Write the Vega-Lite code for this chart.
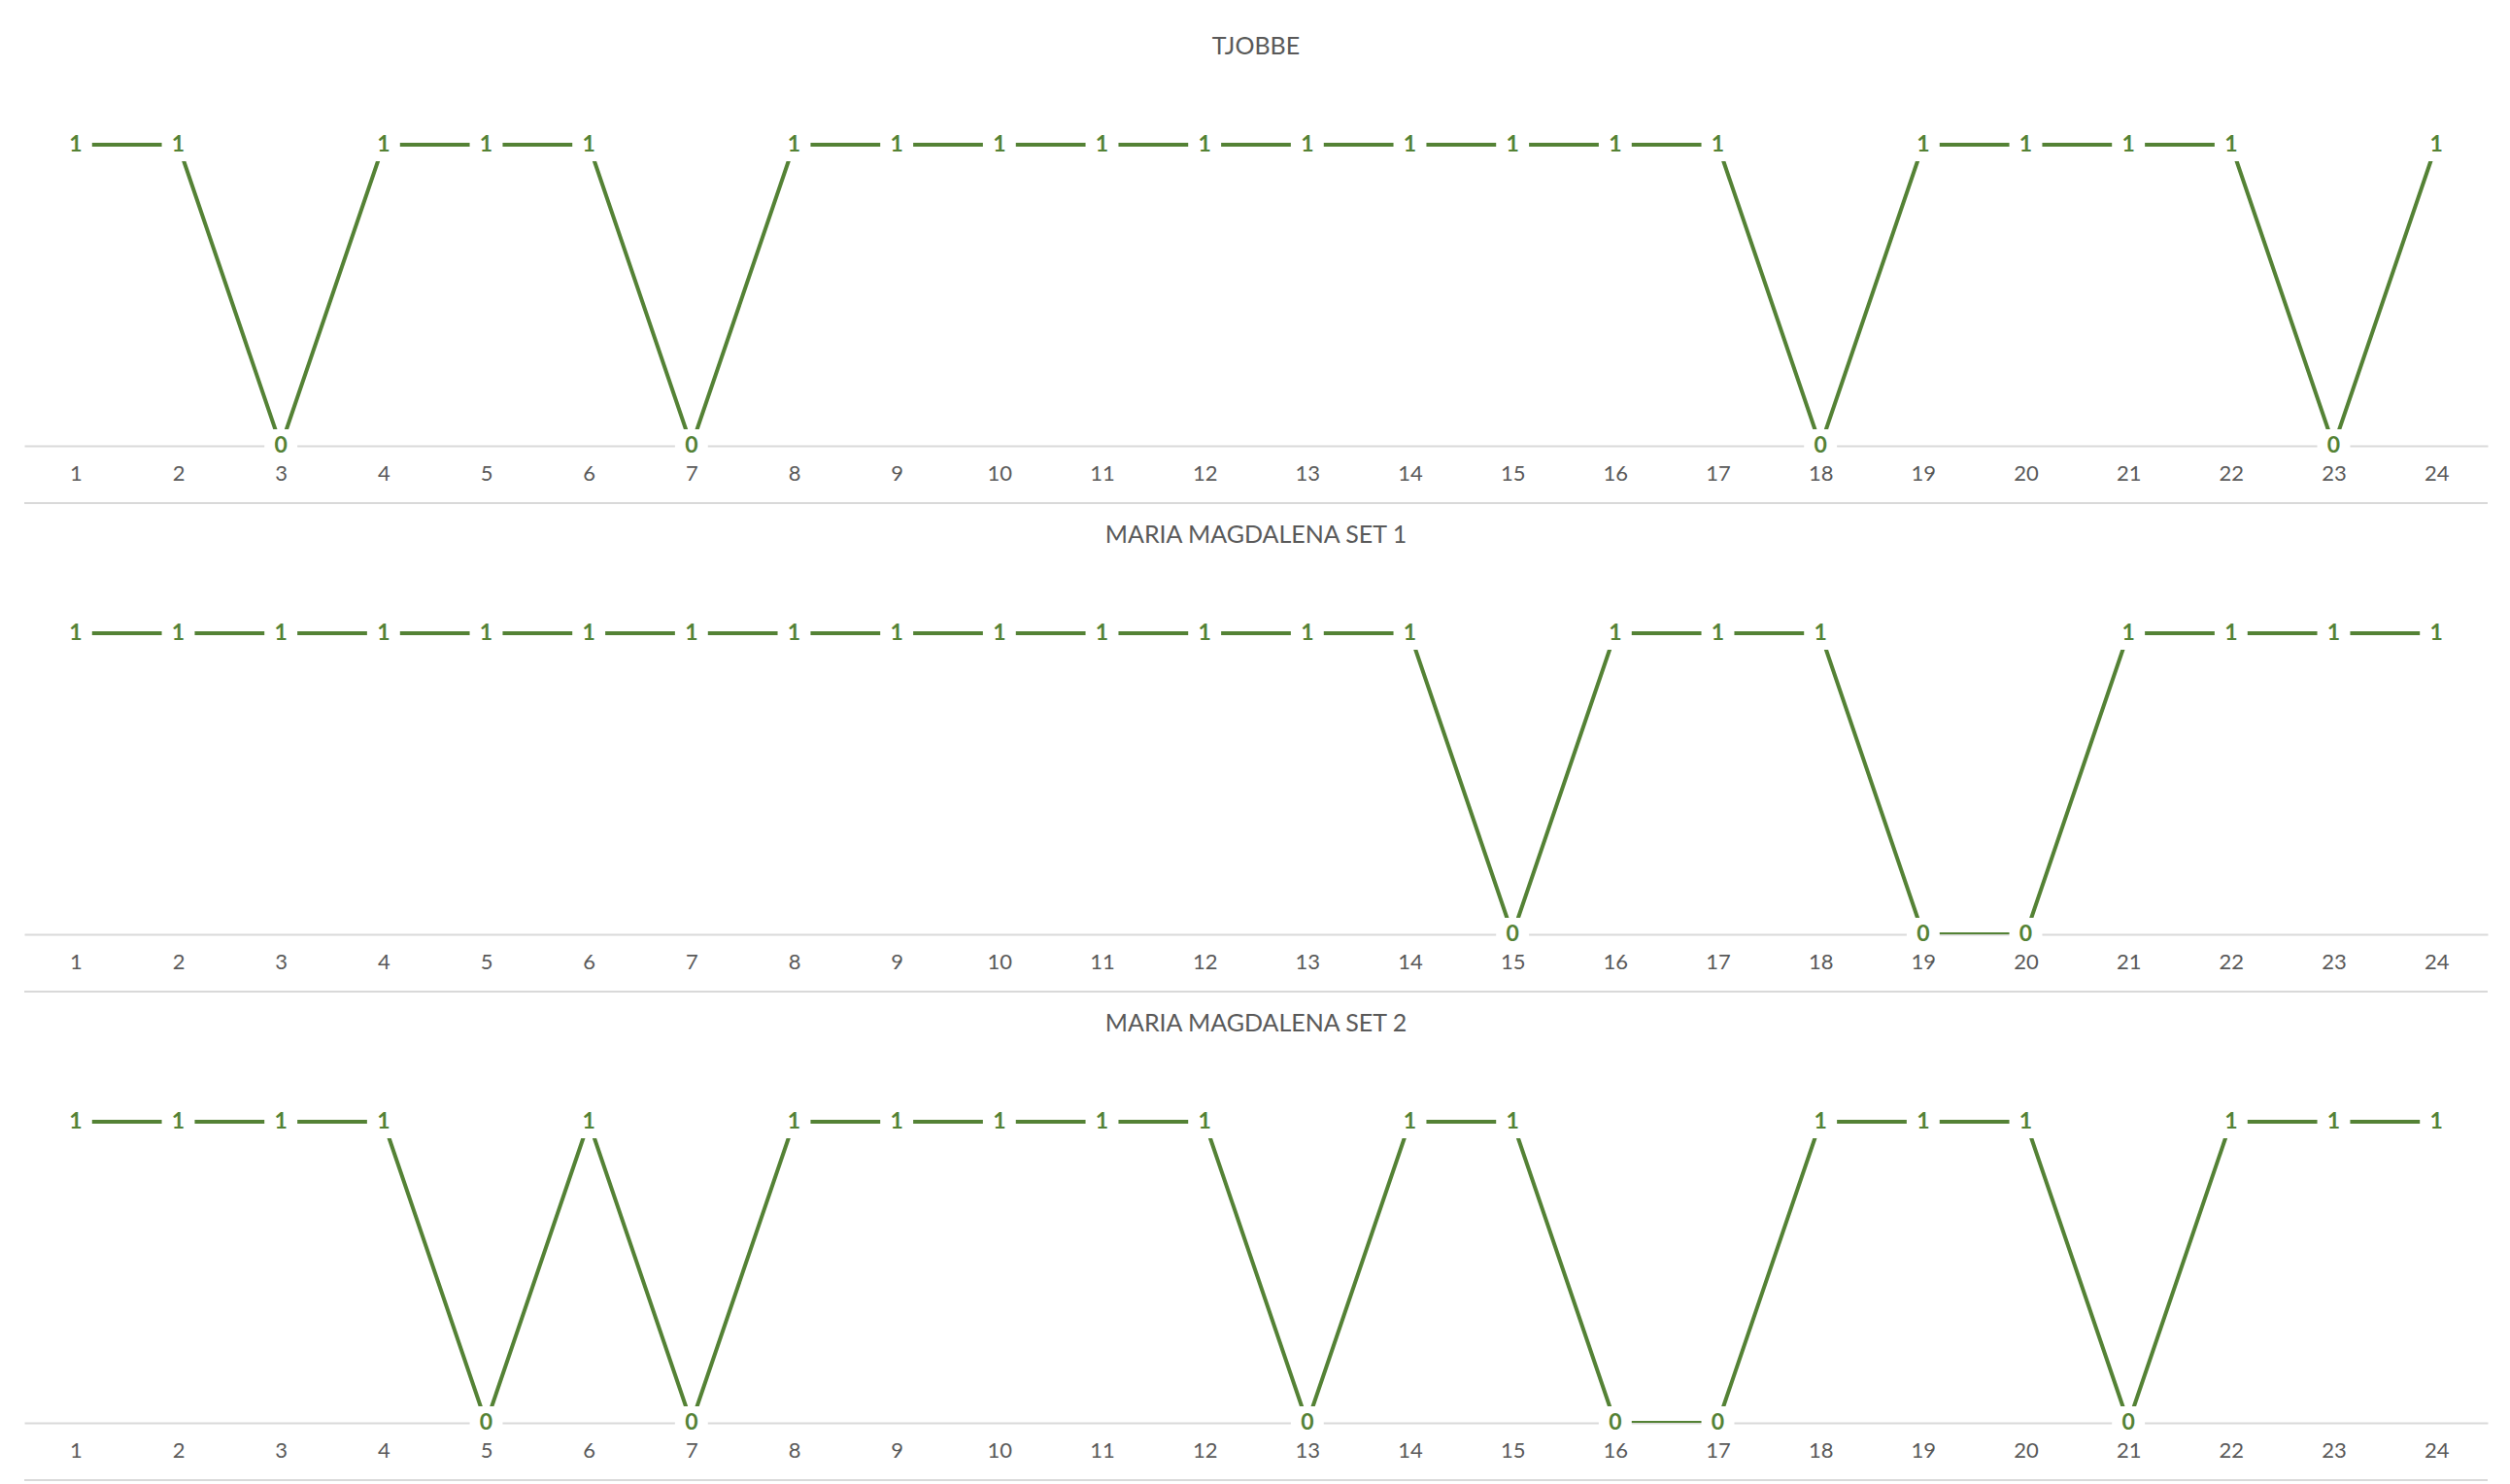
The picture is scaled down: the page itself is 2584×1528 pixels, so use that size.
{
  "$schema": "https://vega.github.io/schema/vega-lite/v6.json",
  "padding": {"top": 36, "left": 24, "right": 24, "bottom": 4},
  "background": "white",
  "config": {
    "view": {"stroke": null},
    "font": "Lato",
    "concat": {"spacing": 20},
    "title": {"fontSize": 25, "fontWeight": "normal", "color": "#595959", "offset": 26, "anchor": "middle"}
  },
  "datasets": {
    "d": [
      {"s": "TJOBBE", "h": 1, "v": 1}, {"s": "TJOBBE", "h": 2, "v": 1}, {"s": "TJOBBE", "h": 3, "v": 0}, {"s": "TJOBBE", "h": 4, "v": 1},
      {"s": "TJOBBE", "h": 5, "v": 1}, {"s": "TJOBBE", "h": 6, "v": 1}, {"s": "TJOBBE", "h": 7, "v": 0}, {"s": "TJOBBE", "h": 8, "v": 1},
      {"s": "TJOBBE", "h": 9, "v": 1}, {"s": "TJOBBE", "h": 10, "v": 1}, {"s": "TJOBBE", "h": 11, "v": 1}, {"s": "TJOBBE", "h": 12, "v": 1},
      {"s": "TJOBBE", "h": 13, "v": 1}, {"s": "TJOBBE", "h": 14, "v": 1}, {"s": "TJOBBE", "h": 15, "v": 1}, {"s": "TJOBBE", "h": 16, "v": 1},
      {"s": "TJOBBE", "h": 17, "v": 1}, {"s": "TJOBBE", "h": 18, "v": 0}, {"s": "TJOBBE", "h": 19, "v": 1}, {"s": "TJOBBE", "h": 20, "v": 1},
      {"s": "TJOBBE", "h": 21, "v": 1}, {"s": "TJOBBE", "h": 22, "v": 1}, {"s": "TJOBBE", "h": 23, "v": 0}, {"s": "TJOBBE", "h": 24, "v": 1},
      {"s": "MM1", "h": 1, "v": 1}, {"s": "MM1", "h": 2, "v": 1}, {"s": "MM1", "h": 3, "v": 1}, {"s": "MM1", "h": 4, "v": 1},
      {"s": "MM1", "h": 5, "v": 1}, {"s": "MM1", "h": 6, "v": 1}, {"s": "MM1", "h": 7, "v": 1}, {"s": "MM1", "h": 8, "v": 1},
      {"s": "MM1", "h": 9, "v": 1}, {"s": "MM1", "h": 10, "v": 1}, {"s": "MM1", "h": 11, "v": 1}, {"s": "MM1", "h": 12, "v": 1},
      {"s": "MM1", "h": 13, "v": 1}, {"s": "MM1", "h": 14, "v": 1}, {"s": "MM1", "h": 15, "v": 0}, {"s": "MM1", "h": 16, "v": 1},
      {"s": "MM1", "h": 17, "v": 1}, {"s": "MM1", "h": 18, "v": 1}, {"s": "MM1", "h": 19, "v": 0}, {"s": "MM1", "h": 20, "v": 0},
      {"s": "MM1", "h": 21, "v": 1}, {"s": "MM1", "h": 22, "v": 1}, {"s": "MM1", "h": 23, "v": 1}, {"s": "MM1", "h": 24, "v": 1},
      {"s": "MM2", "h": 1, "v": 1}, {"s": "MM2", "h": 2, "v": 1}, {"s": "MM2", "h": 3, "v": 1}, {"s": "MM2", "h": 4, "v": 1},
      {"s": "MM2", "h": 5, "v": 0}, {"s": "MM2", "h": 6, "v": 1}, {"s": "MM2", "h": 7, "v": 0}, {"s": "MM2", "h": 8, "v": 1},
      {"s": "MM2", "h": 9, "v": 1}, {"s": "MM2", "h": 10, "v": 1}, {"s": "MM2", "h": 11, "v": 1}, {"s": "MM2", "h": 12, "v": 1},
      {"s": "MM2", "h": 13, "v": 0}, {"s": "MM2", "h": 14, "v": 1}, {"s": "MM2", "h": 15, "v": 1}, {"s": "MM2", "h": 16, "v": 0},
      {"s": "MM2", "h": 17, "v": 0}, {"s": "MM2", "h": 18, "v": 1}, {"s": "MM2", "h": 19, "v": 1}, {"s": "MM2", "h": 20, "v": 1},
      {"s": "MM2", "h": 21, "v": 0}, {"s": "MM2", "h": 22, "v": 1}, {"s": "MM2", "h": 23, "v": 1}, {"s": "MM2", "h": 24, "v": 1}
    ]
  },
  "vconcat": [
    {
      "width": 2536, "height": 372,
      "title": {"text": "TJOBBE"},
      "data": {"name": "d"},
      "transform": [{"filter": "datum.s === 'TJOBBE'"}],
      "layer": [
        {"mark": {"type": "rule", "color": "#d9d9d9", "strokeWidth": 2}, "encoding": {"y": {"datum": -0.19, "type": "quantitative", "scale": {"domain": [0, 1.2]}, "axis": null}}},
        {"mark": {"type": "line", "color": "#548235", "strokeWidth": 4, "clip": true},
         "encoding": {
           "x": {"field": "h", "type": "ordinal", "scale": {"padding": 0.5}, "axis": {"title": null, "labelAngle": 0, "labelFontSize": 22, "labelColor": "#595959", "ticks": false, "domainColor": "#d9d9d9", "domainWidth": 2, "labelPadding": 18, "grid": false}},
           "y": {"field": "v", "type": "quantitative", "scale": {"domain": [0, 1.2]}, "axis": null}}},
        {"mark": {"type": "point", "shape": "square", "size": 1150, "filled": true, "color": "white", "opacity": 1},
         "encoding": {"x": {"field": "h", "type": "ordinal"}, "y": {"field": "v", "type": "quantitative"}}},
        {"mark": {"type": "text", "color": "#548235", "fontWeight": "bold", "fontSize": 23, "align": "center", "baseline": "middle"},
         "encoding": {"x": {"field": "h", "type": "ordinal"}, "y": {"field": "v", "type": "quantitative"}, "text": {"field": "v"}}}
      ]
    },
    {
      "width": 2536, "height": 372,
      "title": {"text": "MARIA MAGDALENA SET 1"},
      "data": {"name": "d"},
      "transform": [{"filter": "datum.s === 'MM1'"}],
      "layer": [
        {"mark": {"type": "rule", "color": "#d9d9d9", "strokeWidth": 2}, "encoding": {"y": {"datum": -0.19, "type": "quantitative", "scale": {"domain": [0, 1.2]}, "axis": null}}},
        {"mark": {"type": "line", "color": "#548235", "strokeWidth": 4, "clip": true},
         "encoding": {
           "x": {"field": "h", "type": "ordinal", "scale": {"padding": 0.5}, "axis": {"title": null, "labelAngle": 0, "labelFontSize": 22, "labelColor": "#595959", "ticks": false, "domainColor": "#d9d9d9", "domainWidth": 2, "labelPadding": 18, "grid": false}},
           "y": {"field": "v", "type": "quantitative", "scale": {"domain": [0, 1.2]}, "axis": null}}},
        {"mark": {"type": "point", "shape": "square", "size": 1150, "filled": true, "color": "white", "opacity": 1},
         "encoding": {"x": {"field": "h", "type": "ordinal"}, "y": {"field": "v", "type": "quantitative"}}},
        {"mark": {"type": "text", "color": "#548235", "fontWeight": "bold", "fontSize": 23, "align": "center", "baseline": "middle"},
         "encoding": {"x": {"field": "h", "type": "ordinal"}, "y": {"field": "v", "type": "quantitative"}, "text": {"field": "v"}}}
      ]
    },
    {
      "width": 2536, "height": 372,
      "title": {"text": "MARIA MAGDALENA SET 2"},
      "data": {"name": "d"},
      "transform": [{"filter": "datum.s === 'MM2'"}],
      "layer": [
        {"mark": {"type": "rule", "color": "#d9d9d9", "strokeWidth": 2}, "encoding": {"y": {"datum": -0.19, "type": "quantitative", "scale": {"domain": [0, 1.2]}, "axis": null}}},
        {"mark": {"type": "line", "color": "#548235", "strokeWidth": 4, "clip": true},
         "encoding": {
           "x": {"field": "h", "type": "ordinal", "scale": {"padding": 0.5}, "axis": {"title": null, "labelAngle": 0, "labelFontSize": 22, "labelColor": "#595959", "ticks": false, "domainColor": "#d9d9d9", "domainWidth": 2, "labelPadding": 18, "grid": false}},
           "y": {"field": "v", "type": "quantitative", "scale": {"domain": [0, 1.2]}, "axis": null}}},
        {"mark": {"type": "point", "shape": "square", "size": 1150, "filled": true, "color": "white", "opacity": 1},
         "encoding": {"x": {"field": "h", "type": "ordinal"}, "y": {"field": "v", "type": "quantitative"}}},
        {"mark": {"type": "text", "color": "#548235", "fontWeight": "bold", "fontSize": 23, "align": "center", "baseline": "middle"},
         "encoding": {"x": {"field": "h", "type": "ordinal"}, "y": {"field": "v", "type": "quantitative"}, "text": {"field": "v"}}}
      ]
    }
  ]
}
